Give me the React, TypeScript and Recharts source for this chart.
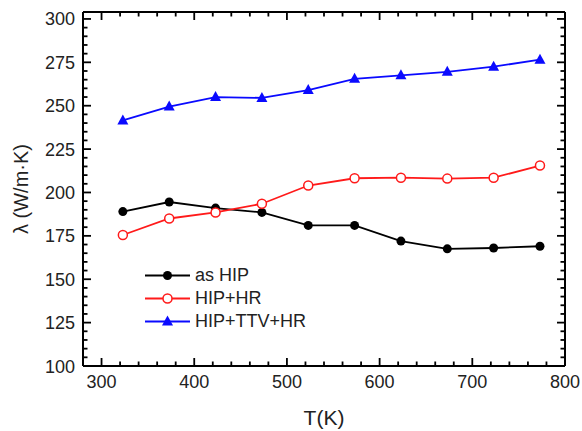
import { LineChart, Line, XAxis, YAxis } from 'recharts';

const temps = [323, 373, 423, 473, 523, 573, 623, 673, 723, 773];
const asHip = [189, 194.5, 191, 188.5, 181, 181, 172, 167.5, 168, 169];
const hipHr = [175.5, 185, 188.5, 193.5, 204, 208.2, 208.5, 208, 208.5, 215.5];
const hipTtvHr = [241.5, 249.5, 255, 254.5, 259, 265.5, 267.5, 269.5, 272.5, 276.5];

const xMajor = [300, 400, 500, 600, 700, 800];
const yMajor = [100, 125, 150, 175, 200, 225, 250, 275, 300];
const xTicks = Array.from({ length: 26 }, (_, i) => 300 + i * 20);
const yTicks = Array.from({ length: 41 }, (_, i) => 100 + i * 5);

const X_DOMAIN: [number, number] = [280, 800];
const Y_DOMAIN: [number, number] = [100, 304];

const data = temps.map((t, i) => ({ t, asHip: asHip[i], hipHr: hipHr[i], hipTtvHr: hipTtvHr[i] }));

const FONT = '"Liberation Sans", Arial, sans-serif';
const RED = '#ff1a1a';
const BLUE = '#0a0aff';

// inward ticks; the text sits outside on the bottom and left
const BottomTick = (props: any) => {
  const { x, y, payload } = props;
  const major = xMajor.includes(payload.value);
  const len = major ? 8 : 4.5;
  return (
    <g>
      <path d={`M${x},${y}L${x},${y - len}`} stroke="#000" strokeWidth={1.8} />
      {major && <text x={x} y={y + 22} textAnchor="middle" fontSize={18} fontFamily={FONT} fill="#222">{payload.value}</text>}
    </g>
  );
};

const TopTick = (props: any) => {
  const { x, y, payload } = props;
  const len = xMajor.includes(payload.value) ? 8 : 4.5;
  return <path d={`M${x},${y}L${x},${y + len}`} stroke="#000" strokeWidth={1.8} />;
};

const LeftTick = (props: any) => {
  const { x, y, payload } = props;
  const major = yMajor.includes(payload.value);
  const len = major ? 8 : 4.5;
  return (
    <g>
      <path d={`M${x},${y}L${x + len},${y}`} stroke="#000" strokeWidth={1.8} />
      {major && <text x={x - 8} y={y + 6.5} textAnchor="end" fontSize={18} fontFamily={FONT} fill="#222">{payload.value}</text>}
    </g>
  );
};

const RightTick = (props: any) => {
  const { x, y, payload } = props;
  const len = yMajor.includes(payload.value) ? 8 : 4.5;
  return <path d={`M${x},${y}L${x - len},${y}`} stroke="#000" strokeWidth={1.8} />;
};

const Triangle = (props: any) => {
  const { cx, cy, index } = props;
  if (cx == null || cy == null) return <g key={index} />;
  return <polygon key={index} points={`${cx},${cy - 6} ${cx - 5.5},${cy + 4} ${cx + 5.5},${cy + 4}`} fill={BLUE} />;
};

const legendItems = [
  { name: 'as HIP', color: '#000', marker: 'dot' },
  { name: 'HIP+HR', color: RED, marker: 'open' },
  { name: 'HIP+TTV+HR', color: BLUE, marker: 'tri' },
];

function LegendBox() {
  return (
    <div style={{ position: 'absolute', left: 145, top: 264, fontFamily: FONT, fontSize: 18, color: '#222' }}>
      {legendItems.map((it) => (
        <div key={it.name} style={{ display: 'flex', alignItems: 'center', height: 23 }}>
          <svg width={50} height={23}>
            <line x1={0} y1={11.5} x2={45} y2={11.5} stroke={it.color} strokeWidth={1.8} />
            {it.marker === 'dot' && <circle cx={22.5} cy={11.5} r={4.5} fill="#000" />}
            {it.marker === 'open' && <circle cx={22.5} cy={11.5} r={4.5} fill="#fff" stroke={RED} strokeWidth={1.5} />}
            {it.marker === 'tri' && <polygon points="22.5,5.5 17,15.5 28,15.5" fill={BLUE} />}
          </svg>
          <span>{it.name}</span>
        </div>
      ))}
    </div>
  );
}

const titleStyle = {
  position: 'absolute' as const,
  fontFamily: FONT,
  color: '#222',
  whiteSpace: 'nowrap' as const,
  lineHeight: 1,
};

export default function App() {
  return (
    <div style={{ position: 'absolute', left: 0, top: 0, width: 582, height: 431 }}>
      <LineChart width={582} height={431} data={data} margin={{ top: 0, right: 0, bottom: 0, left: 0 }}>
        <XAxis xAxisId="x" dataKey="t" type="number" domain={X_DOMAIN} allowDataOverflow ticks={xTicks} interval={0}
          height={65} tickSize={0} tickMargin={0} tickLine={false} tick={BottomTick} axisLine={{ stroke: '#000', strokeWidth: 2 }} />
        <XAxis xAxisId="top" dataKey="t" orientation="top" type="number" domain={X_DOMAIN} allowDataOverflow ticks={xTicks} interval={0}
          height={12} tickSize={0} tickMargin={0} tickLine={false} tick={TopTick} axisLine={{ stroke: '#000', strokeWidth: 2 }} />
        <YAxis yAxisId="y" type="number" domain={Y_DOMAIN} allowDataOverflow ticks={yTicks} interval={0}
          width={83} tickSize={0} tickMargin={0} tickLine={false} tick={LeftTick} axisLine={{ stroke: '#000', strokeWidth: 2 }} />
        <YAxis yAxisId="right" orientation="right" type="number" domain={Y_DOMAIN} allowDataOverflow ticks={yTicks} interval={0}
          width={17} tickSize={0} tickMargin={0} tickLine={false} tick={RightTick} axisLine={{ stroke: '#000', strokeWidth: 2 }} />
        <Line xAxisId="top" yAxisId="right" dataKey="asHip" stroke="none" dot={false} legendType="none" isAnimationActive={false} />
        <Line xAxisId="x" yAxisId="y" dataKey="asHip" name="as HIP" stroke="#000" strokeWidth={1.8}
          dot={{ r: 4.5, fill: '#000', stroke: '#000', strokeWidth: 0 }} isAnimationActive={false} />
        <Line xAxisId="x" yAxisId="y" dataKey="hipHr" name="HIP+HR" stroke={RED} strokeWidth={1.8}
          dot={{ r: 4.5, fill: '#fff', stroke: RED, strokeWidth: 1.5 }} isAnimationActive={false} />
        <Line xAxisId="x" yAxisId="y" dataKey="hipTtvHr" name="HIP+TTV+HR" stroke={BLUE} strokeWidth={1.8}
          dot={Triangle} isAnimationActive={false} />
      </LineChart>
      <LegendBox />
      <div style={{ ...titleStyle, left: 324, top: 417, fontSize: 21, transform: 'translate(-50%, -50%)' }}>T(K)</div>
      <div style={{ ...titleStyle, left: 21, top: 189, fontSize: 20, transform: 'translate(-50%, -50%) rotate(-90deg)' }}>λ (W/m·K)</div>
    </div>
  );
}
